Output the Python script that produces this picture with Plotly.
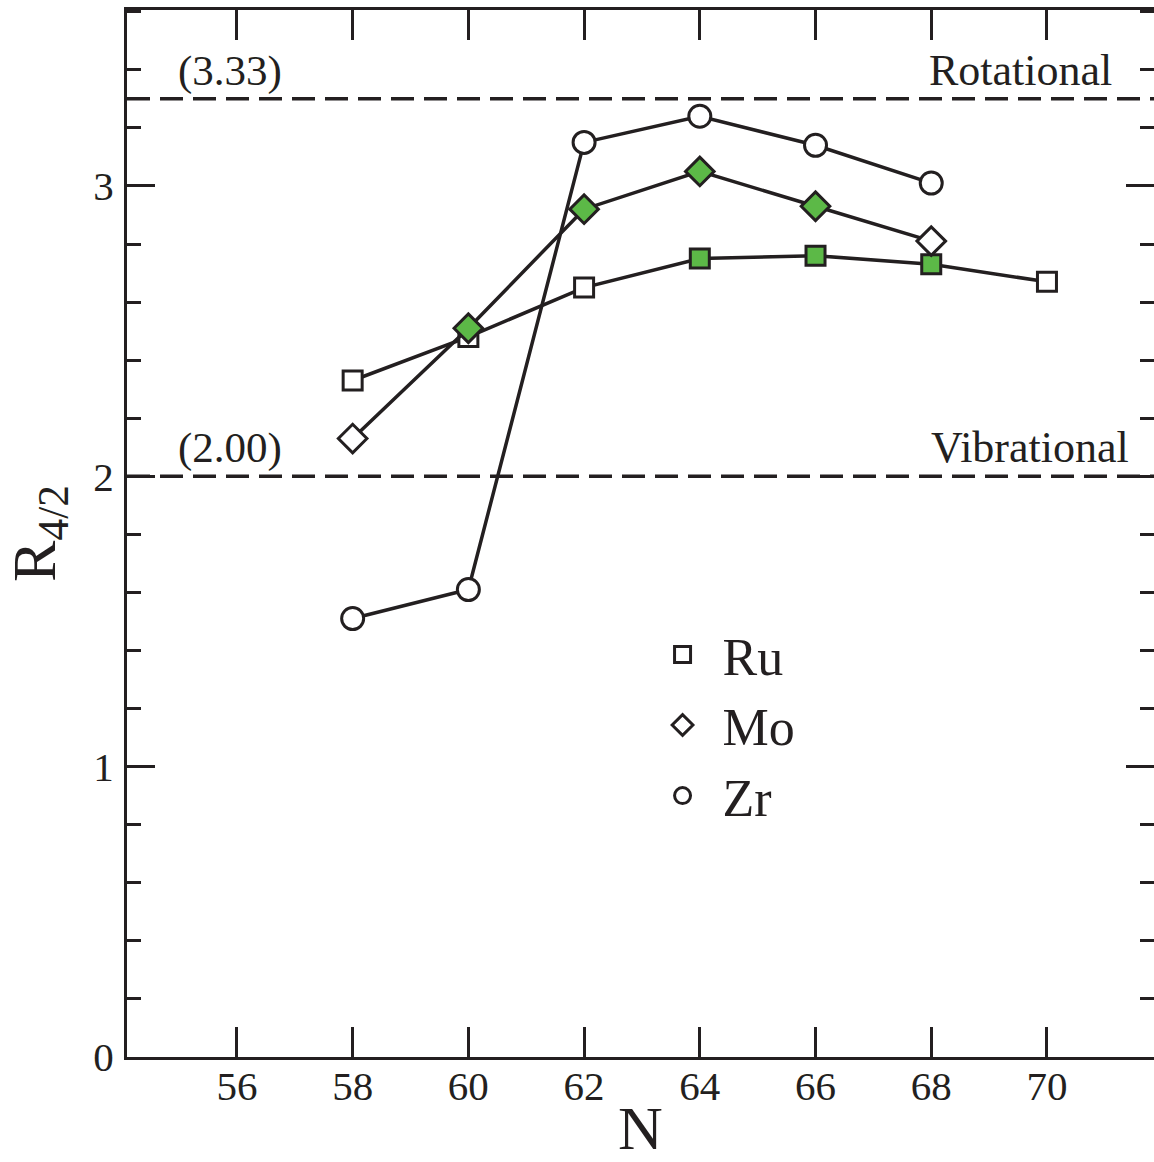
import plotly.graph_objects as go

# Data
N_ru = [58, 60, 62, 64, 66, 68, 70]
R_ru = [2.33, 2.48, 2.65, 2.75, 2.76, 2.73, 2.67]
fill_ru = ["white", "white", "white", "#5cb947", "#5cb947", "#5cb947", "white"]

N_mo = [58, 60, 62, 64, 66, 68]
R_mo = [2.13, 2.51, 2.92, 3.05, 2.93, 2.81]
fill_mo = ["white", "#5cb947", "#5cb947", "#5cb947", "#5cb947", "white"]

N_zr = [58, 60, 62, 64, 66, 68]
R_zr = [1.51, 1.61, 3.15, 3.24, 3.14, 3.01]
fill_zr = ["white"] * 6

ref_vals = [3.30, 2.00]
ref_left = ["(3.33)", "(2.00)"]
ref_right = ["Rotational", "Vibrational"]
ref_right_x = [0.961, 0.978]

INK = "#231f20"
FONT = "Liberation Serif"

fig = go.Figure()

series = [
    ("Ru", N_ru, R_ru, fill_ru, "square", 19),
    ("Mo", N_mo, R_mo, fill_mo, "diamond", 22),
    ("Zr", N_zr, R_zr, fill_zr, "circle", 22),
]
for name, xs, ys, fills, sym, sz in series:
    fig.add_trace(go.Scatter(
        x=xs, y=ys, mode="lines+markers", name=name, showlegend=False,
        line=dict(color=INK, width=3.5),
        marker=dict(symbol=sym, size=sz, color=fills, line=dict(color=INK, width=3)),
    ))

# legend-only entries (marker only)
for name, xs, ys, fills, sym, sz in series:
    fig.add_trace(go.Scatter(
        x=[None], y=[None], mode="markers", name=name, showlegend=True,
        marker=dict(symbol=sym, size=16, color="white", line=dict(color=INK, width=3)),
    ))

for v, lt, rt, rx in zip(ref_vals, ref_left, ref_right, ref_right_x):
    fig.add_shape(type="line", xref="paper", x0=0, x1=1, yref="y", y0=v, y1=v,
                  line=dict(color=INK, width=3.5, dash="23px,10px"))
    fig.add_annotation(x=0.048, xref="paper", xanchor="left", y=v, yref="y", yanchor="bottom",
                       yshift=2, text=lt, showarrow=False,
                       font=dict(family=FONT, size=43, color=INK))
    fig.add_annotation(x=rx, xref="paper", xanchor="right", y=v, yref="y", yanchor="bottom",
                       yshift=2, text=rt, showarrow=False,
                       font=dict(family=FONT, size=44, color=INK))

fig.update_layout(
    width=1154, height=1162,
    margin=dict(l=127, r=0, t=10, b=105, autoexpand=False),
    paper_bgcolor="white", plot_bgcolor="white",
    font=dict(family=FONT, color=INK),
    legend=dict(x=0.502, y=0.423, xanchor="left", yanchor="top",
                font=dict(family=FONT, size=52, color=INK),
                bgcolor="rgba(0,0,0,0)", tracegroupgap=0, itemwidth=70),
    showlegend=True,
)

fig.update_xaxes(
    range=[54.1, 71.85], tick0=56, dtick=2, automargin=False,
    showline=True, linewidth=3, linecolor=INK, mirror="ticks",
    ticks="inside", ticklen=30, tickwidth=2.5, tickcolor=INK,
    showgrid=False, zeroline=False, ticklabelstandoff=-9,
    tickfont=dict(family=FONT, size=41, color=INK),
    title=dict(text="N", font=dict(family=FONT, size=62, color=INK), standoff=39),
)
fig.update_yaxes(
    range=[0, 3.606], tick0=0, dtick=1, automargin=False,
    showline=True, linewidth=3, linecolor=INK, mirror="ticks",
    ticks="inside", ticklen=28, tickwidth=2.5, tickcolor=INK,
    minor=dict(dtick=0.2, ticks="inside", ticklen=14, tickwidth=2.5, tickcolor=INK, showgrid=False),
    showgrid=False, zeroline=False, ticklabelstandoff=2,
    tickfont=dict(family=FONT, size=41, color=INK),
    title=dict(text="R<sub>4/2</sub>", font=dict(family=FONT, size=62, color=INK), standoff=26),
)

fig.write_html("out.html")
